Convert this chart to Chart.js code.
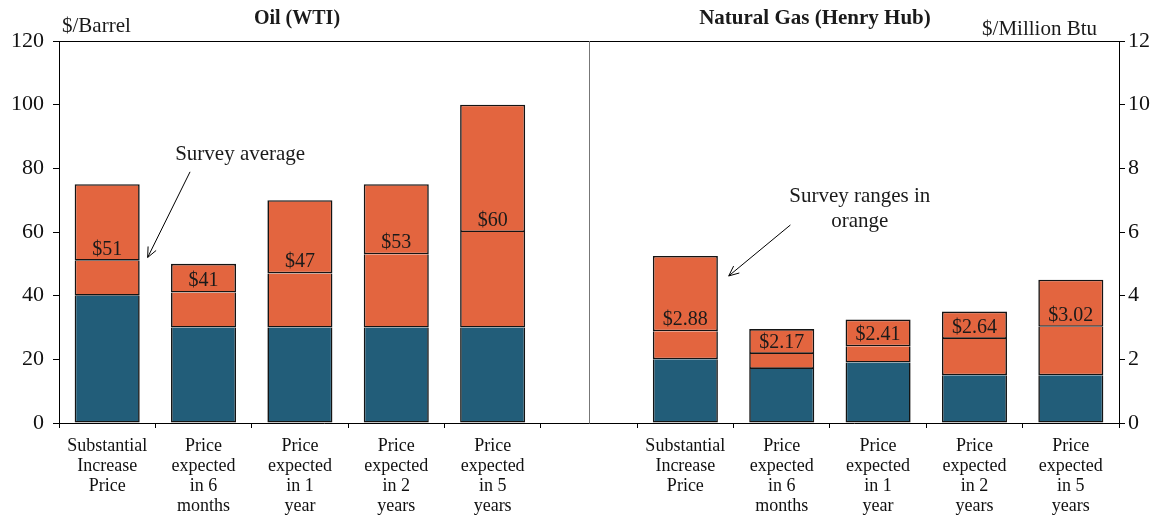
<!DOCTYPE html>
<html>
<head>
<meta charset="utf-8">
<script src="https://cdn.jsdelivr.net/npm/chart.js@4"></script>
<style>
  html, body { margin:0; padding:0; background:#fff; }
  #wrap { width:1166px; height:516px; position:relative; }
</style>
</head>
<body>
<div id="wrap"><canvas id="chart"></canvas></div>
<script>
// categories (index 5 is the empty gap between oil and gas)
const categories = [
  ["Substantial","Increase","Price"],
  ["Price","expected","in 6","months"],
  ["Price","expected","in 1","year"],
  ["Price","expected","in 2","years"],
  ["Price","expected","in 5","years"],
  "",
  ["Substantial","Increase","Price"],
  ["Price","expected","in 6","months"],
  ["Price","expected","in 1","year"],
  ["Price","expected","in 2","years"],
  ["Price","expected","in 5","years"]
];

// oil, $/barrel
const oilLow  = [40, 30, 30, 30, 30];
const oilAvg  = [51, 41, 47, 53, 60];
const oilHigh = [75, 50, 70, 75, 100];

// natural gas, $/million Btu
const gasLow  = [2.0, 1.7, 1.9, 1.5, 1.5];
const gasAvg  = [2.88, 2.17, 2.41, 2.64, 3.02];
const gasHigh = [5.25, 2.95, 3.25, 3.5, 4.5];

const leftTicks  = [0, 20, 40, 60, 80, 100, 120];
const rightTicks = [0, 2, 4, 6, 8, 10, 12];

const BLUE = "#225d79";
const ORANGE = "#e3653f";
const EDGE = "#141414";
const SERIF = "'Liberation Serif', 'Times New Roman', serif";

const pad = n => new Array(n).fill(null);
const oilSeries = arr => arr.concat(pad(6));
const gasSeries = arr => pad(6).concat(arr);
const diff = (a, b) => a.map((v, i) => +(v - b[i]).toFixed(3));

// lower segments skip their top edge so each boundary is a single line
function bar(data, color, axis, top){
  const w = 1.6;
  return {
    data: data, yAxisID: axis, backgroundColor: color, borderColor: EDGE,
    borderWidth: { left: w, right: w, bottom: w, top: top ? w : 0 },
    borderSkipped: false,
    barPercentage: 0.675, categoryPercentage: 1
  };
}

const datasets = [
  bar(oilSeries(oilLow), BLUE, "y", false),
  bar(oilSeries(diff(oilAvg, oilLow)), ORANGE, "y", false),
  bar(oilSeries(diff(oilHigh, oilAvg)), ORANGE, "y", true),
  bar(gasSeries(gasLow), BLUE, "y2", false),
  bar(gasSeries(diff(gasAvg, gasLow)), ORANGE, "y2", false),
  bar(gasSeries(diff(gasHigh, gasAvg)), ORANGE, "y2", true)
];

function arrow(ctx, x1, y1, x2, y2){
  ctx.beginPath();
  ctx.moveTo(x1, y1); ctx.lineTo(x2, y2); ctx.stroke();
  const a = Math.atan2(y2 - y1, x2 - x1), L = 11, w = 0.42;
  ctx.beginPath();
  ctx.moveTo(x2 - L*Math.cos(a - w), y2 - L*Math.sin(a - w));
  ctx.lineTo(x2, y2);
  ctx.lineTo(x2 - L*Math.cos(a + w), y2 - L*Math.sin(a + w));
  ctx.stroke();
}

const extras = {
  id: "extras",
  afterDatasetsDraw(chart){
    const ctx = chart.ctx, area = chart.chartArea;
    const x = chart.scales.x, y = chart.scales.y, y2 = chart.scales.y2;
    ctx.save();

    // frame top line and the divider
    ctx.strokeStyle = "#000"; ctx.lineWidth = 1;
    ctx.beginPath();
    ctx.moveTo(area.left, area.top + 0.5); ctx.lineTo(area.right, area.top + 0.5);
    ctx.stroke();
    ctx.strokeStyle = "#777";
    const dx = Math.round(x.getPixelForValue(5)) + 0.5;
    ctx.beginPath(); ctx.moveTo(dx, area.top); ctx.lineTo(dx, area.bottom); ctx.stroke();

    // average value labels
    ctx.fillStyle = "#1a1a1a";
    ctx.font = "20px " + SERIF;
    ctx.textAlign = "center"; ctx.textBaseline = "alphabetic";
    oilAvg.forEach((v, i) => {
      ctx.fillText("$" + v, x.getPixelForValue(i), y.getPixelForValue(v) - 6);
    });
    gasAvg.forEach((v, i) => {
      ctx.fillText("$" + v.toFixed(2), x.getPixelForValue(i + 6), y2.getPixelForValue(v) - 6);
    });

    // annotations
    ctx.font = "21px " + SERIF;
    ctx.fillText("Survey average", x.getPixelForValue(1.38), y.getPixelForValue(84.8) + 7);
    ctx.fillText("Survey ranges in", x.getPixelForValue(7.81), y2.getPixelForValue(7.16) + 7);
    ctx.fillText("orange", x.getPixelForValue(7.81), y2.getPixelForValue(6.38) + 7);
    ctx.strokeStyle = "#000"; ctx.lineWidth = 1;
    arrow(ctx, x.getPixelForValue(0.86), y.getPixelForValue(78.9),
               x.getPixelForValue(0.42), y.getPixelForValue(52));
    arrow(ctx, x.getPixelForValue(7.09), y2.getPixelForValue(6.22),
               x.getPixelForValue(6.45), y2.getPixelForValue(4.62));

    // titles and units
    ctx.font = "bold 20px " + SERIF;
    ctx.fillText("Oil (WTI)", 297, 24);
    ctx.font = "bold 21px " + SERIF;
    ctx.fillText("Natural Gas (Henry Hub)", 815, 24);
    ctx.font = "21px " + SERIF;
    ctx.textAlign = "left";
    ctx.fillText("$/Barrel", 62, 32);
    ctx.textAlign = "right";
    ctx.fillText("$/Million Btu", 1097, 35);
    ctx.restore();
  }
};

const tickFont = { family: SERIF, size: 22 };

new Chart(document.getElementById("chart"), {
  type: "bar",
  data: { labels: categories, datasets: datasets },
  options: {
    responsive: true, maintainAspectRatio: false, animation: false,
    layout: { padding: { top: 41, left: 0, right: 0, bottom: 0 } },
    plugins: { legend: { display: false }, tooltip: { enabled: false } },
    scales: {
      x: {
        stacked: true, offset: true,
        grid: { offset: true, drawOnChartArea: false, drawTicks: true, tickLength: 5, color: "#000" },
        border: { display: true, color: "#000", width: 1 },
        ticks: { color: "#111", font: { family: SERIF, size: 18, lineHeight: 1.11 }, maxRotation: 0, autoSkip: false, padding: 8 },
        afterFit: s => { s.height = 93; }
      },
      y: {
        stacked: true, position: "left", min: 0, max: 120,
        afterBuildTicks: s => { s.ticks = leftTicks.map(v => ({ value: v })); },
        grid: { drawOnChartArea: false, tickLength: 6, color: "#000" },
        border: { display: true, color: "#000", width: 1 },
        ticks: { color: "#111", font: tickFont, padding: 9 },
        afterFit: s => { s.width = 59; }
      },
      y2: {
        stacked: true, position: "right", min: 0, max: 12,
        afterBuildTicks: s => { s.ticks = rightTicks.map(v => ({ value: v })); },
        grid: { drawOnChartArea: false, tickLength: 6, color: "#000" },
        border: { display: true, color: "#000", width: 1 },
        ticks: { color: "#111", font: tickFont, padding: 3 },
        afterFit: s => { s.width = 47; }
      }
    }
  },
  plugins: [extras]
});
</script>
</body>
</html>
